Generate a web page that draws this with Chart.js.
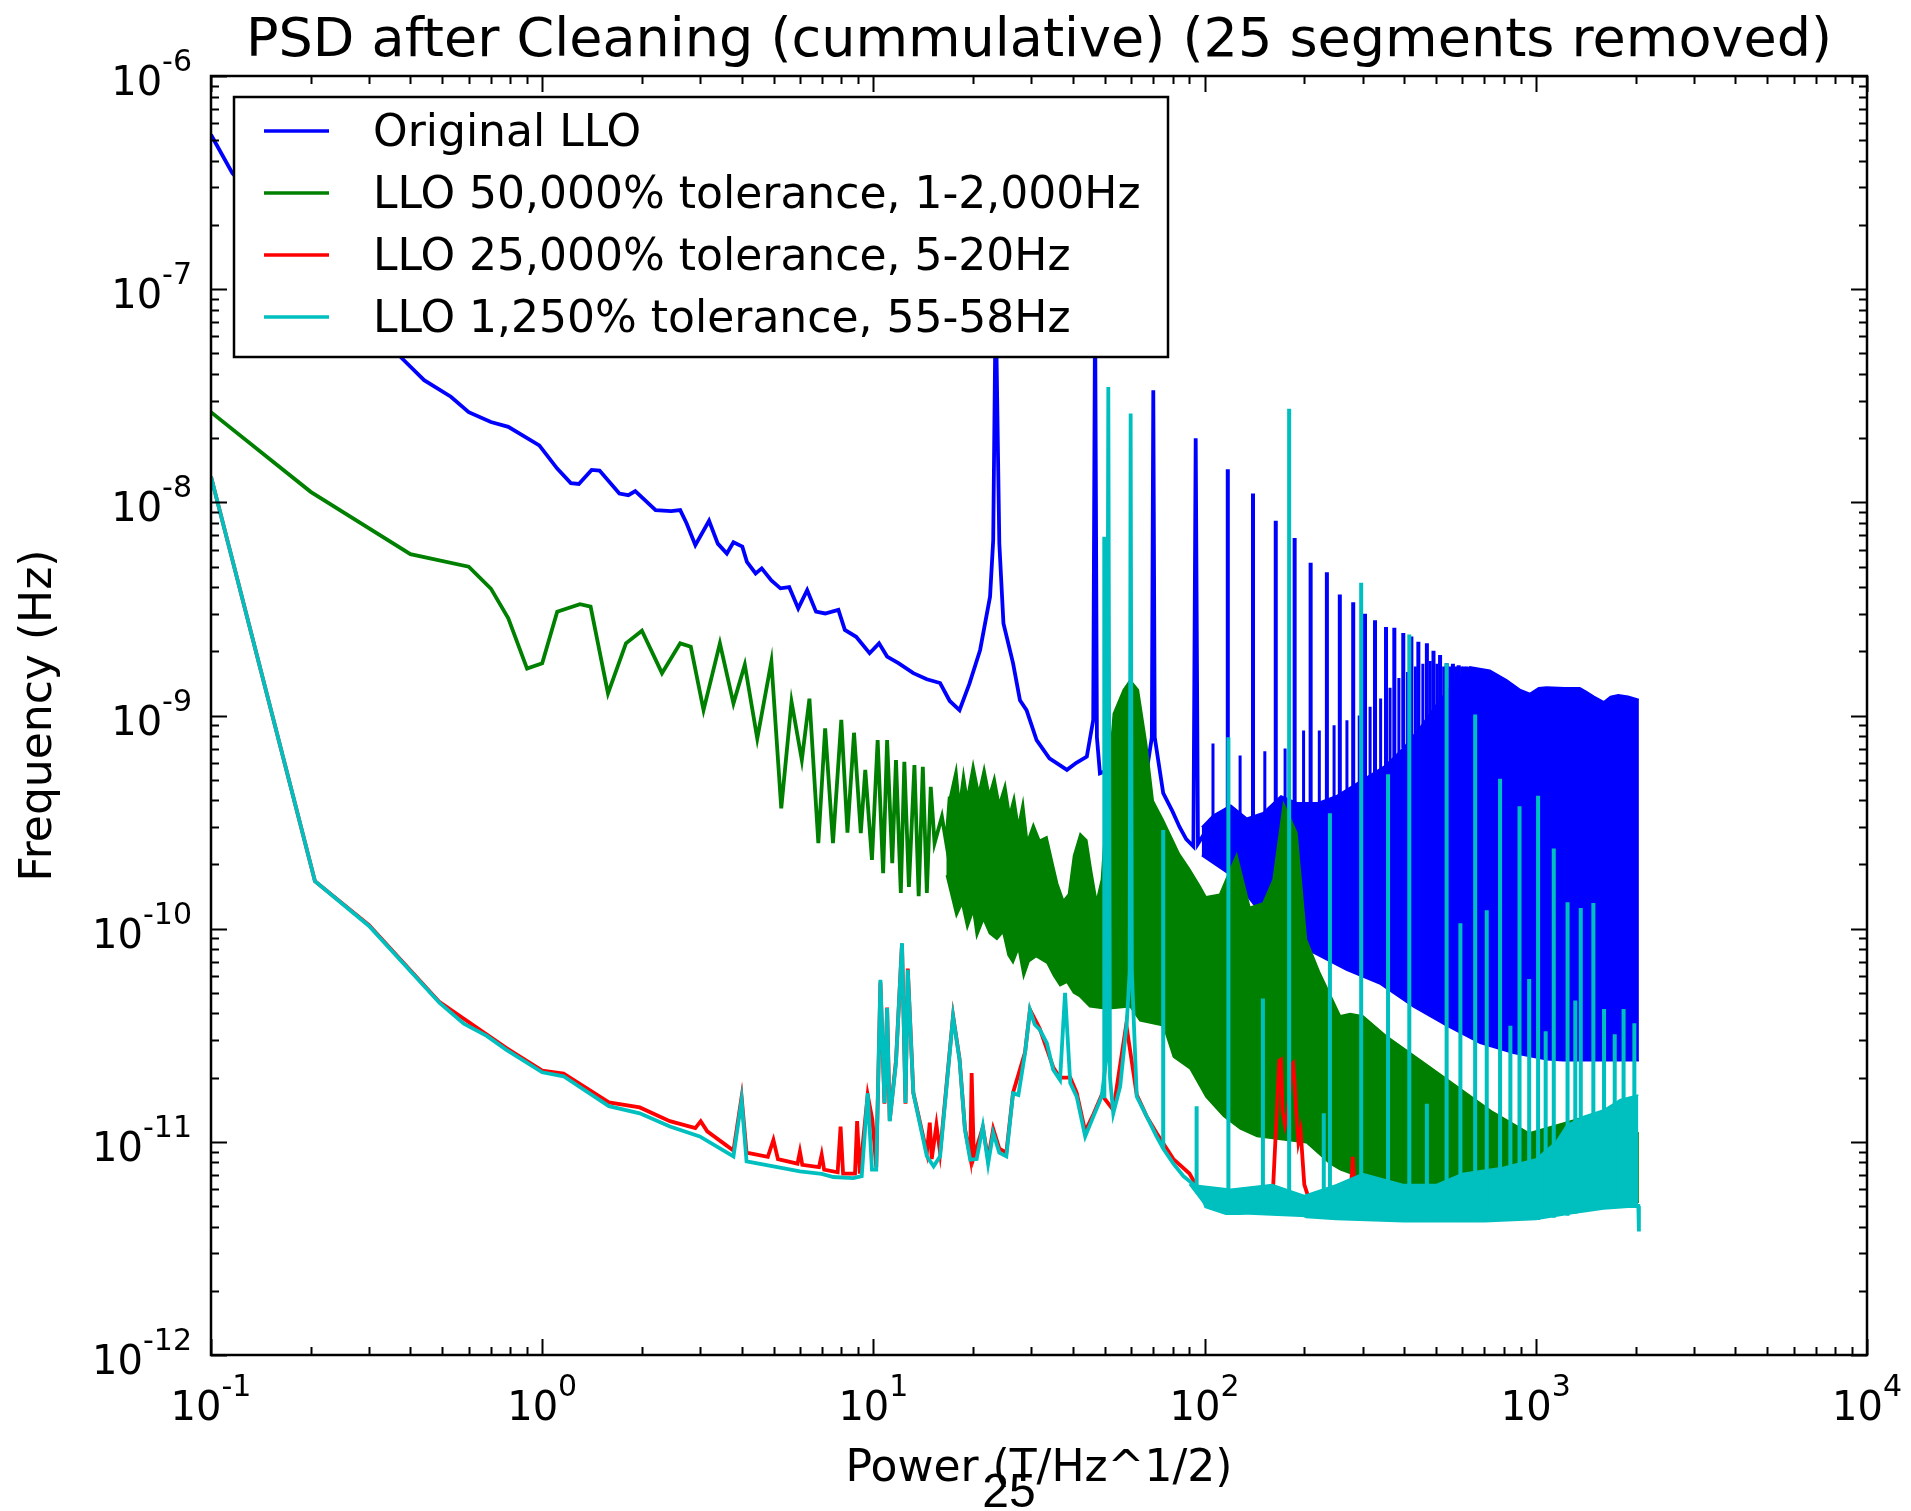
<!DOCTYPE html>
<html>
<head>
<meta charset="utf-8">
<title>PSD after Cleaning</title>
<script src="https://cdn.jsdelivr.net/npm/chart.js@4.4.0/dist/chart.umd.min.js"></script>
<style>
  html, body { margin: 0; padding: 0; background: #fff; }
  #wrap { width: 1911px; height: 1511px; }
</style>
</head>
<body>
<div id="wrap"><canvas id="psd" width="1911" height="1511"></canvas></div>
<script>
// ── axis ticks ─────────────────────────────────────────
const xTickValues = [0.1, 1, 10, 100, 1000, 10000];
const xTickExps = ['-1', '0', '1', '2', '3', '4'];
const yTickValues = [1e-12, 1e-11, 1e-10, 1e-9, 1e-8, 1e-7, 1e-6];
const yTickExps = ['-12', '-11', '-10', '-9', '-8', '-7', '-6'];

const seriesNames = [
  'Original LLO',
  'LLO 50,000% tolerance, 1-2,000Hz',
  'LLO 25,000% tolerance, 5-20Hz',
  'LLO 1,250% tolerance, 55-58Hz'
];
const seriesColors = ['#0000ff', '#008000', '#ff0000', '#00bfbf'];

// ── Original LLO: [Hz, PSD] ────────────────────────────
const blueLine = [
  [0.1, 5.3e-7], [0.116, 3.5e-7], [0.2, 1.38e-7], [0.3, 6.9e-8], [0.377, 4.74e-8],
  [0.44, 3.74e-8], [0.53, 3.13e-8], [0.6, 2.65e-8], [0.7, 2.38e-8], [0.79, 2.26e-8],
  [0.98, 1.85e-8], [1.11, 1.44e-8], [1.22, 1.23e-8], [1.29, 1.22e-8], [1.41, 1.42e-8],
  [1.49, 1.41e-8], [1.71, 1.1e-8], [1.82, 1.08e-8], [1.91, 1.13e-8], [2.2, 9.2e-9],
  [2.45, 9.1e-9], [2.61, 9.2e-9], [2.73, 7.96e-9], [2.9, 6.3e-9], [3.19, 8.2e-9],
  [3.39, 6.4e-9], [3.61, 5.75e-9], [3.78, 6.5e-9], [4.02, 6.2e-9], [4.15, 5.26e-9],
  [4.41, 4.64e-9], [4.6, 4.9e-9], [4.92, 4.3e-9], [5.24, 3.95e-9], [5.57, 4.0e-9],
  [5.93, 3.18e-9], [6.31, 3.87e-9], [6.71, 3.07e-9], [7.15, 3.01e-9], [7.84, 3.13e-9],
  [8.2, 2.52e-9], [8.87, 2.34e-9], [9.74, 1.96e-9], [10.4, 2.18e-9], [11.0, 1.89e-9],
  [11.9, 1.76e-9], [13.2, 1.58e-9], [14.5, 1.48e-9], [15.9, 1.42e-9], [17.0, 1.17e-9],
  [18.2, 1.06e-9], [19.5, 1.41e-9], [21.0, 2.03e-9], [22.5, 3.61e-9], [23.0, 6.64e-9],
  [23.4, 9e-8], [24.0, 6.41e-9], [24.7, 2.7e-9], [26.4, 1.76e-9], [27.7, 1.18e-9],
  [29.0, 1.06e-9], [31.1, 7.67e-10], [34.0, 6.3e-10], [38.4, 5.56e-10], [41.0, 6.0e-10],
  [44.1, 6.41e-10], [46.1, 9.53e-10], [46.7, 9e-8], [47.3, 7.9e-10], [48.3, 5.36e-10],
  [52, 5.6e-10], [56, 5.0e-10], [60, 5.6e-10], [64, 5.0e-10], [67, 5.6e-10],
  [69.3, 7.9e-10], [70, 3.36e-8], [70.7, 7.9e-10], [75, 4.32e-10], [80, 3.55e-10],
  [84, 3.0e-10], [88, 2.63e-10], [92.5, 2.43e-10], [94, 2.0e-8], [95.5, 2.5e-10],
  [100, 2.8e-10], [106, 2.9e-10], [112, 3.2e-10]
];
const blueBandTop = [
  [98, 3.0e-10], [106, 3.4e-10], [120, 3.8e-10], [134, 3.3e-10], [150, 3.5e-10],
  [170, 4.2e-10], [190, 3.9e-10], [220, 3.9e-10], [250, 4.2e-10], [300, 5.0e-10],
  [350, 5.8e-10], [400, 7.1e-10], [450, 8.9e-10], [500, 1.12e-9], [560, 1.41e-9],
  [632, 1.69e-9], [727, 1.63e-9], [817, 1.47e-9], [900, 1.32e-9], [960, 1.27e-9],
  [1020, 1.35e-9], [1078, 1.36e-9], [1222, 1.35e-9], [1358, 1.35e-9], [1416, 1.3e-9],
  [1500, 1.23e-9], [1603, 1.16e-9], [1680, 1.23e-9], [1774, 1.25e-9], [1900, 1.23e-9],
  [2048, 1.19e-9]
];
const blueBandBottom = [
  [98, 2.2e-10], [120, 1.78e-10], [147, 1.19e-10], [190, 8.9e-11], [213, 7.7e-11],
  [268, 6.4e-11], [339, 5.5e-11], [427, 4.3e-11], [538, 3.5e-11], [679, 2.9e-11],
  [855, 2.6e-11], [1078, 2.43e-11], [1211, 2.4e-11], [2048, 2.4e-11]
];
// [Hz, base, peak]
const blueSpikes = [
  [117.5, 3.2e-10, 1.43e-8], [140, 2.8e-10, 1.1e-8], [164, 3.5e-10, 8.2e-9],
  [187, 3.2e-10, 6.8e-9], [209, 3.2e-10, 5.2e-9], [234, 3.2e-10, 4.7e-9],
  [256, 3.5e-10, 3.7e-9], [281, 4.0e-10, 3.4e-9], [305, 4.5e-10, 3.0e-9],
  [327, 5.0e-10, 2.8e-9], [353, 5.6e-10, 2.6e-9], [374, 6.0e-10, 2.58e-9],
  [398, 7.0e-10, 2.44e-9], [421, 7.5e-10, 2.35e-9], [442, 8.0e-10, 2.22e-9],
  [469, 9.0e-10, 2.18e-9], [491, 1.0e-9, 2.01e-9], [514, 1.1e-9, 1.92e-9],
  [538, 1.2e-9, 1.76e-9], [562, 1.3e-9, 1.75e-9], [585, 1.35e-9, 1.72e-9],
  [608, 1.4e-9, 1.7e-9]
];
// weaker lines sitting between the main harmonics
const blueMinorSpikes = [
  [106, 3.0e-10, 7.4e-10], [128, 3.4e-10, 6.5e-10], [152, 3.4e-10, 6.8e-10],
  [175, 3.8e-10, 7.0e-10], [199, 3.6e-10, 8.5e-10], [222, 3.6e-10, 8.5e-10],
  [246, 3.8e-10, 9.0e-10], [269, 4.0e-10, 9.5e-10], [293, 4.6e-10, 1.0e-9],
  [316, 5.0e-10, 1.1e-9], [340, 5.5e-10, 1.2e-9], [363, 6.0e-10, 1.35e-9],
  [386, 6.5e-10, 1.5e-9], [410, 7.2e-10, 1.6e-9], [433, 7.8e-10, 1.7e-9],
  [456, 8.5e-10, 1.75e-9], [480, 9.5e-10, 1.8e-9], [503, 1.05e-9, 1.75e-9],
  [527, 1.15e-9, 1.7e-9], [550, 1.25e-9, 1.7e-9], [573, 1.3e-9, 1.7e-9],
  [597, 1.38e-9, 1.7e-9], [620, 1.45e-9, 1.7e-9]
];

// ── LLO 50,000% tolerance ──────────────────────────────
const greenLine = [
  [0.1, 2.65e-8], [0.2, 1.12e-8], [0.4, 5.71e-9], [0.6, 4.99e-9], [0.7, 3.94e-9],
  [0.79, 2.86e-9], [0.9, 1.66e-9], [1.0, 1.76e-9], [1.11, 3.07e-9], [1.3, 3.33e-9],
  [1.4, 3.24e-9], [1.58, 1.27e-9], [1.79, 2.18e-9], [2.0, 2.5e-9], [2.3, 1.58e-9],
  [2.61, 2.18e-9], [2.81, 2.1e-9], [3.07, 1.06e-9], [3.44, 2.18e-9], [3.78, 1.14e-9],
  [4.09, 1.73e-9], [4.46, 7.8e-10], [4.92, 1.79e-9], [5.27, 3.67e-10], [5.66, 1.16e-9],
  [6.08, 6.18e-10], [6.41, 1.2e-9], [6.82, 2.52e-10], [7.15, 8.7e-10], [7.55, 2.52e-10],
  [8.0, 9.55e-10], [8.35, 2.82e-10], [8.74, 8.3e-10], [9.16, 2.81e-10], [9.45, 5.56e-10],
  [9.9, 2.1e-10], [10.3, 7.67e-10], [10.7, 1.82e-10], [11.0, 7.67e-10], [11.4, 2.03e-10],
  [11.7, 6.18e-10], [12.1, 1.47e-10], [12.4, 6.07e-10], [12.8, 1.57e-10], [13.3, 5.86e-10],
  [13.7, 1.42e-10], [14.1, 5.75e-10], [14.5, 1.47e-10], [14.9, 4.63e-10], [15.3, 2.52e-10],
  [16.1, 3.35e-10], [16.6, 2.52e-10], [17.0, 4.16e-10]
];
const greenBandTop = [
  [16.6, 2.5e-10], [17.0, 4.16e-10], [17.8, 5.75e-10], [18.2, 4.0e-10], [18.7, 5.5e-10],
  [19.2, 4.2e-10], [20.0, 6.0e-10], [20.8, 4.4e-10], [21.6, 5.75e-10], [22.4, 4.3e-10],
  [23.2, 5.2e-10], [24.0, 3.9e-10], [25.0, 4.8e-10], [25.8, 3.5e-10], [26.6, 4.2e-10],
  [27.4, 3.1e-10], [28.3, 4.0e-10], [29.2, 2.6e-10], [30.4, 3.1e-10], [31.8, 2.6e-10],
  [33.4, 2.7e-10], [34.9, 2.0e-10], [36.0, 1.63e-10], [37.5, 1.36e-10], [38.8, 1.45e-10],
  [40.2, 2.2e-10], [42.1, 2.8e-10], [44.1, 2.6e-10], [45.5, 1.9e-10], [47.2, 1.36e-10],
  [48.8, 1.7e-10], [50.6, 3.98e-10], [53, 1.02e-9], [56.8, 1.32e-9], [59.6, 1.47e-9],
  [63.1, 1.32e-9], [66.8, 7.41e-10], [70, 3.98e-10], [75, 3.24e-10], [84, 2.24e-10],
  [90, 1.91e-10], [97, 1.58e-10], [101, 1.41e-10], [111, 1.45e-10], [125, 2.24e-10],
  [137, 1.26e-10], [150, 1.32e-10], [161, 1.7e-10], [173, 3.89e-10], [190, 2.82e-10],
  [203, 8.9e-11], [223, 6.2e-11], [257, 3.9e-11], [275, 4.0e-11], [301, 3.9e-11],
  [352, 3.16e-11], [452, 2.4e-11], [579, 1.82e-11], [743, 1.38e-11], [953, 1.1e-11],
  [1222, 1.23e-11], [1567, 1.38e-11], [2009, 1.1e-11], [2048, 1.1e-11]
];
const greenBandBottom = [
  [16.6, 1.78e-10], [17.8, 1.14e-10], [18.5, 1.3e-10], [19.2, 1.0e-10], [20.0, 1.2e-10],
  [20.5, 9.1e-11], [21.5, 1.1e-10], [22.4, 9.5e-11], [23.6, 8.9e-11], [24.6, 9.6e-11],
  [25.5, 7.5e-11], [26.4, 6.9e-11], [27.4, 8.0e-11], [28.4, 5.9e-11], [29.5, 7.0e-11],
  [31.0, 7.4e-11], [33.4, 6.9e-11], [35, 6.0e-11], [36.6, 5.4e-11], [38.4, 5.6e-11],
  [40.2, 5.0e-11], [42, 4.8e-11], [45, 4.3e-11], [50.6, 4.2e-11], [59.6, 4.3e-11],
  [63.8, 3.7e-11], [75, 3.5e-11], [80.5, 2.5e-11], [90.4, 2.2e-11], [101, 1.62e-11],
  [114, 1.32e-11], [128, 1.15e-11], [144, 1.06e-11], [203, 9.9e-12], [239, 7.9e-12],
  [257, 7.4e-12], [323, 6.5e-12], [407, 5.5e-12], [514, 5.1e-12], [1000, 5.0e-12],
  [2048, 5.2e-12]
];

// ── LLO 25,000% tolerance ──────────────────────────────
const redLine = [
  [0.1, 1.32e-8], [0.206, 1.67e-10], [0.3, 1.04e-10], [0.49, 4.52e-11], [0.78, 2.75e-11],
  [1.0, 2.16e-11], [1.16, 2.09e-11], [1.59, 1.53e-11], [1.97, 1.45e-11], [2.43, 1.25e-11],
  [2.9, 1.16e-11], [3.01, 1.25e-11], [3.15, 1.12e-11], [3.78, 9.1e-12], [4.0, 1.62e-11],
  [4.14, 8.9e-12], [4.8, 8.5e-12], [4.99, 1.02e-11], [5.15, 8.3e-12], [5.9, 7.9e-12],
  [6.0, 9.0e-12], [6.1, 7.8e-12], [6.85, 7.6e-12], [6.98, 8.7e-12], [7.1, 7.4e-12],
  [7.8, 7.2e-12], [7.96, 1.18e-11], [8.1, 7.1e-12], [8.8, 7.1e-12], [8.93, 1.25e-11],
  [9.1, 7.1e-12], [9.61, 1.66e-11], [9.93, 1.27e-11], [10.2, 7.6e-12], [10.5, 5.6e-11],
  [10.8, 1.51e-11], [11.0, 4.27e-11], [11.2, 1.26e-11], [11.7, 2.4e-11], [12.2, 8.5e-11],
  [12.5, 1.51e-11], [12.7, 6.5e-11], [13.2, 1.7e-11], [14.5, 8.9e-12], [14.8, 1.23e-11],
  [15.0, 8.3e-12], [15.5, 1.2e-11], [15.9, 8.9e-12], [17.4, 3.9e-11], [18.2, 2.45e-11],
  [18.9, 1.15e-11], [19.6, 8.5e-12], [19.8, 2.1e-11], [20.1, 8.5e-12], [21.4, 1.17e-11],
  [22.2, 8.3e-12], [23.0, 1.15e-11], [24.0, 9.3e-12], [25.2, 8.9e-12], [26.4, 1.7e-11],
  [28.7, 2.63e-11], [29.7, 4.17e-11], [31.8, 3.39e-11], [34.9, 2.24e-11], [36.6, 2.0e-11],
  [39.3, 2.0e-11], [41.1, 1.7e-11], [43.6, 1.12e-11], [46.2, 1.35e-11], [48.9, 1.66e-11],
  [53, 1.41e-11], [58, 3.55e-11], [62.4, 1.66e-11], [66.8, 1.32e-11], [71.6, 1.1e-11],
  [80.5, 8.3e-12], [90, 7.1e-12], [101, 5.2e-12], [120, 5.0e-12], [160, 5.0e-12],
  [164, 1.1e-11], [166, 1.6e-11], [168, 2.4e-11], [170, 2.43e-11], [172, 1.4e-11],
  [175, 1.2e-11], [178, 1.35e-11], [181, 1.8e-11], [183, 2.3e-11], [185, 2.34e-11],
  [187, 1.9e-11], [189, 1.4e-11], [192, 1.0e-11], [195, 1.12e-11], [200, 6.3e-12],
  [210, 5.0e-12], [275, 5.0e-12], [280, 8.5e-12], [285, 5.0e-12], [300, 5.0e-12]
];

// ── LLO 1,250% tolerance ───────────────────────────────
const cyanLine = [
  [0.1, 1.32e-8], [0.206, 1.67e-10], [0.3, 1.03e-10], [0.49, 4.48e-11], [0.58, 3.58e-11],
  [0.68, 3.14e-11], [0.78, 2.7e-11], [1.0, 2.12e-11], [1.16, 2.03e-11], [1.59, 1.47e-11],
  [1.97, 1.36e-11], [2.43, 1.18e-11], [2.99, 1.06e-11], [3.78, 8.55e-12], [4.0, 1.57e-11],
  [4.14, 8.1e-12], [4.99, 7.67e-12], [6.0, 7.26e-12], [6.98, 7.08e-12], [7.57, 6.84e-12],
  [8.69, 6.76e-12], [9.22, 6.9e-12], [9.61, 1.69e-11], [9.9, 7.4e-12], [10.2, 7.4e-12],
  [10.5, 5.75e-11], [10.8, 1.52e-11], [11.0, 4.24e-11], [11.2, 1.25e-11], [11.7, 2.34e-11],
  [12.2, 8.55e-11], [12.5, 1.52e-11], [12.7, 6.41e-11], [13.2, 1.69e-11], [14.5, 8.55e-12],
  [15.2, 7.67e-12], [15.9, 8.55e-12], [17.4, 3.87e-11], [18.2, 2.43e-11], [18.9, 1.14e-11],
  [19.6, 8.24e-12], [20.5, 8.3e-12], [21.4, 1.18e-11], [22.2, 7.9e-12], [23.0, 1.1e-11],
  [24.0, 8.9e-12], [25.2, 8.55e-12], [26.4, 1.69e-11], [27.4, 1.66e-11], [28.7, 2.61e-11],
  [29.7, 4.16e-11], [30.7, 3.55e-11], [31.8, 3.36e-11], [33.4, 2.9e-11], [34.9, 2.18e-11],
  [36.6, 1.95e-11], [37.9, 5.0e-11], [39.3, 1.89e-11], [41.1, 1.63e-11], [43.6, 1.06e-11],
  [46.2, 1.32e-11], [48.9, 1.63e-11], [50.6, 2.5e-11], [51.2, 3.48e-8], [51.8, 2.0e-11],
  [53.0, 1.36e-11], [55.6, 1.82e-11], [58.2, 3.6e-11], [59.4, 6.3e-11], [59.8, 2.61e-8],
  [60.3, 6.3e-11], [62.4, 1.63e-11], [66.8, 1.32e-11], [71.6, 1.06e-11], [75, 9.3e-12],
  [80.5, 7.9e-12], [86.3, 6.9e-12], [96.8, 5.96e-12], [101, 4.98e-12], [116, 4.63e-12],
  [128, 4.63e-12], [161, 4.81e-12], [175, 5.55e-12], [185, 4.81e-12], [203, 4.47e-12],
  [250, 4.37e-12], [400, 4.27e-12], [700, 4.27e-12], [1000, 4.37e-12], [1300, 4.68e-12],
  [1600, 4.9e-12], [1900, 5.0e-12], [2040, 5.0e-12], [2048, 3.8e-12]
];
const cyanBandTop = [
  [90, 6.3e-12], [120, 6.0e-12], [160, 6.3e-12], [200, 5.6e-12], [250, 6.3e-12],
  [300, 7.1e-12], [400, 6.3e-12], [500, 6.3e-12], [600, 7.1e-12], [800, 7.6e-12],
  [1000, 8.3e-12], [1150, 1.0e-11], [1240, 1.2e-11], [1400, 1.32e-11], [1600, 1.41e-11],
  [1800, 1.58e-11], [2040, 1.66e-11]
];
const cyanBandBottom = [
  [90, 6.3e-12], [101, 4.98e-12], [116, 4.63e-12], [203, 4.47e-12], [400, 4.27e-12],
  [700, 4.27e-12], [1000, 4.37e-12], [1300, 4.68e-12], [1600, 4.9e-12], [2040, 5.0e-12]
];
const cyanSpikes = [
  [49.8, 1.6e-11, 6.9e-9], [75, 9.3e-12, 2.9e-10], [94.6, 6.0e-12, 1.47e-11],
  [118, 4.6e-12, 7.9e-10], [150, 4.7e-12, 4.7e-11], [180, 4.8e-12, 2.75e-8],
  [229, 4.5e-12, 1.36e-11], [239, 4.5e-12, 3.48e-10], [297, 4.4e-12, 4.2e-9],
  [358, 4.4e-12, 5.3e-10], [415, 4.3e-12, 2.4e-9], [469, 4.3e-12, 1.51e-11],
  [538, 4.3e-12, 1.76e-9], [592, 4.3e-12, 1.06e-10], [656, 4.3e-12, 1.01e-9],
  [711, 4.3e-12, 1.22e-10], [780, 4.3e-12, 5.05e-10], [838, 4.3e-12, 3.5e-11],
  [893, 4.3e-12, 3.75e-10], [955, 4.3e-12, 5.8e-11], [1016, 4.3e-12, 4.2e-10],
  [1071, 4.4e-12, 3.3e-11], [1133, 4.4e-12, 2.38e-10], [1247, 4.5e-12, 1.33e-10],
  [1316, 4.6e-12, 4.6e-11], [1367, 4.7e-12, 1.25e-10], [1492, 4.8e-12, 1.32e-10],
  [1607, 4.9e-12, 4.2e-11], [1731, 5.0e-12, 3.2e-11], [1841, 5.0e-12, 4.2e-11],
  [1984, 5.0e-12, 3.6e-11]
];

// ── dataset helpers ────────────────────────────────────
function lineSet(pairs, color, order, width) {
  return {
    data: pairs.map(([x, y]) => ({ x, y })),
    borderColor: color,
    backgroundColor: color,
    borderWidth: width || 3.8,
    pointRadius: 0,
    tension: 0,
    fill: false,
    spanGaps: false,
    order
  };
}

function spikeSet(list, color, order, width) {
  const ds = lineSet([], color, order, width || 4);
  list.forEach(([f, lo, hi]) => {
    ds.data.push({ x: f, y: lo }, { x: f, y: hi }, { x: f, y: null });
  });
  return ds;
}

function bandSets(top, bottom, color, order) {
  return [
    Object.assign(lineSet(top, color, order, 1.5), { fill: '+1' }),
    lineSet(bottom, color, order, 1.5)
  ];
}

const [BLUE, GREEN, RED, CYAN] = seriesColors;

const datasets = [
  // lower order is painted later, so cyan ends up on top
  lineSet(cyanLine, CYAN, 1),
  spikeSet(cyanSpikes, CYAN, 1),
  ...bandSets(cyanBandTop, cyanBandBottom, CYAN, 1),
  lineSet(redLine, RED, 2),
  lineSet(greenLine, GREEN, 3),
  ...bandSets(greenBandTop, greenBandBottom, GREEN, 3),
  lineSet(blueLine, BLUE, 4),
  spikeSet(blueSpikes, BLUE, 4),
  spikeSet(blueMinorSpikes, BLUE, 4, 3),
  ...bandSets(blueBandTop, blueBandBottom, BLUE, 4)
];

// ── frame, ticks, labels and legend ────────────────────
const FONT = '"DejaVu Sans", "Bitstream Vera Sans", sans-serif';

function minorTicks(majors) {
  const out = [];
  for (let i = 0; i < majors.length - 1; i++) {
    for (let m = 2; m <= 9; m++) out.push(majors[i] * m);
  }
  return out;
}

function drawPower(ctx, exp, x, y, align) {
  ctx.font = '40px ' + FONT;
  const wBase = ctx.measureText('10').width;
  ctx.font = '30px ' + FONT;
  const wExp = ctx.measureText(exp).width;
  const left = align === 'center' ? x - (wBase + wExp) / 2 : x - (wBase + wExp);
  ctx.font = '40px ' + FONT;
  ctx.fillText('10', left, y);
  ctx.font = '30px ' + FONT;
  ctx.fillText(exp, left + wBase, y - 24);
}

const axesPlugin = {
  id: 'mplAxes',
  afterDatasetsDraw(chart) {
    const { ctx, chartArea: a, scales: { x, y } } = chart;
    ctx.save();
    ctx.strokeStyle = '#000';
    ctx.lineWidth = 2;
    ctx.beginPath();
    const xt = [...xTickValues.map(v => [v, 16]), ...minorTicks(xTickValues).map(v => [v, 8])];
    xt.forEach(([v, len]) => {
      const px = Math.round(x.getPixelForValue(v)) + 0.5;
      ctx.moveTo(px, a.bottom); ctx.lineTo(px, a.bottom - len);
      ctx.moveTo(px, a.top); ctx.lineTo(px, a.top + len);
    });
    const yt = [...yTickValues.map(v => [v, 16]), ...minorTicks(yTickValues).map(v => [v, 8])];
    yt.forEach(([v, len]) => {
      const py = Math.round(y.getPixelForValue(v)) + 0.5;
      ctx.moveTo(a.left, py); ctx.lineTo(a.left + len, py);
      ctx.moveTo(a.right, py); ctx.lineTo(a.right - len, py);
    });
    ctx.stroke();
    ctx.lineWidth = 2.5;
    ctx.strokeRect(a.left, a.top, a.right - a.left, a.bottom - a.top);
    ctx.restore();
  },
  afterDraw(chart) {
    const { ctx, chartArea: a, scales: { x, y } } = chart;
    ctx.save();
    ctx.fillStyle = '#000';
    ctx.textBaseline = 'alphabetic';
    ctx.textAlign = 'left';

    xTickValues.forEach((v, i) => drawPower(ctx, xTickExps[i], x.getPixelForValue(v), a.bottom + 65, 'center'));
    yTickValues.forEach((v, i) => drawPower(ctx, yTickExps[i], a.left - 19, y.getPixelForValue(v) + 19, 'right'));

    // axis titles and chart title
    ctx.textAlign = 'center';
    ctx.font = '44px ' + FONT;
    const cx = (a.left + a.right) / 2;
    ctx.fillText('Power (T/Hz^1/2)', cx, a.bottom + 126);
    ctx.save();
    ctx.translate(51, (a.top + a.bottom) / 2);
    ctx.rotate(-Math.PI / 2);
    ctx.fillText('Frequency (Hz)', 0, 0);
    ctx.restore();
    ctx.font = '54px ' + FONT;
    ctx.fillText('PSD after Cleaning (cummulative) (25 segments removed)', cx, 56);

    // legend box
    const lx = a.left + 23, ly = a.top + 21, lw = 934, lh = 260;
    ctx.fillStyle = '#fff';
    ctx.fillRect(lx, ly, lw, lh);
    ctx.strokeStyle = '#000';
    ctx.lineWidth = 2.5;
    ctx.strokeRect(lx, ly, lw, lh);
    ctx.textAlign = 'left';
    ctx.font = '44px ' + FONT;
    seriesNames.forEach((name, i) => {
      const rowY = ly + 34 + i * 62;
      ctx.strokeStyle = seriesColors[i];
      ctx.lineWidth = 3.5;
      ctx.beginPath();
      ctx.moveTo(lx + 30, rowY);
      ctx.lineTo(lx + 95, rowY);
      ctx.stroke();
      ctx.fillStyle = '#000';
      ctx.fillText(name, lx + 139, rowY + 15);
    });

    // page number under the figure
    ctx.textAlign = 'center';
    ctx.font = '48px "Liberation Sans", Arial, sans-serif';
    ctx.fillText('25', 1009, 1507);
    ctx.restore();
  }
};

new Chart(document.getElementById('psd'), {
  type: 'line',
  data: { datasets },
  options: {
    responsive: false,
    devicePixelRatio: 1,
    animation: false,
    events: [],
    layout: { padding: { left: 211, top: 76, right: 44, bottom: 156 } },
    scales: {
      x: { type: 'logarithmic', min: 0.1, max: 10000, display: false },
      y: { type: 'logarithmic', min: 1e-12, max: 1e-6, display: false }
    },
    plugins: {
      legend: { display: false },
      title: { display: false },
      tooltip: { enabled: false }
    }
  },
  plugins: [axesPlugin]
});
</script>
</body>
</html>
